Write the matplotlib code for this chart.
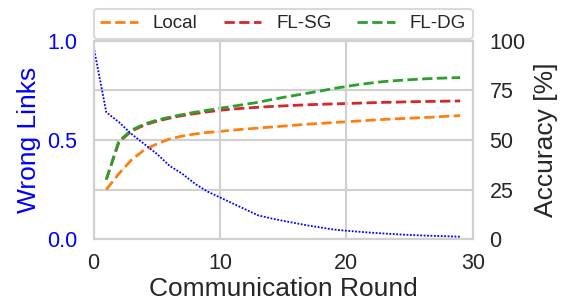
import matplotlib
matplotlib.use("Agg")
import matplotlib.pyplot as plt
import seaborn as sns

sns.set_theme(style="whitegrid")
plt.rcParams['font.family'] = ['Liberation Sans', 'DejaVu Sans']

rounds_wl = list(range(0, 30))
wrong_links = [0.97, 0.64, 0.59, 0.53, 0.48, 0.43, 0.37, 0.33, 0.28, 0.24,
               0.21, 0.18, 0.15, 0.12, 0.105, 0.092, 0.08, 0.068, 0.058, 0.048,
               0.042, 0.037, 0.032, 0.028, 0.024, 0.021, 0.018, 0.016, 0.014, 0.012]

rounds_acc = list(range(1, 30))
acc_local = [25, 33, 40, 45, 48, 50.5, 52, 53, 53.8, 54.3, 55, 55.5, 56, 56.5, 57,
             57.5, 58, 58.4, 58.8, 59.2, 59.6, 60, 60.4, 60.7, 61, 61.3, 61.6, 62, 62.3]
acc_sg = [30, 49, 54.5, 57.5, 59.5, 61, 62.3, 63.3, 64.2, 65, 65.6, 66.1, 66.5, 66.9, 67.2,
          67.5, 67.8, 68, 68.2, 68.4, 68.6, 68.8, 69, 69.1, 69.3, 69.4, 69.5, 69.6, 69.7]
acc_dg = [30, 49.5, 55, 58, 60, 61.5, 62.8, 64, 65, 66, 67, 68, 69, 70.3, 71.5,
          72.6, 73.7, 74.8, 76, 77, 78, 78.8, 79.5, 80, 80.4, 80.8, 81.1, 81.3, 81.5]

grid_c = '#d0d0d0'
text_c = '#262626'

fig = plt.figure(figsize=(5.71, 3.03), dpi=100)
ax1 = fig.add_axes([0.164, 0.211, 0.664, 0.654])
ax2 = ax1.twinx()

ax1.plot(rounds_wl, wrong_links, linestyle=(0, (1, 0.9)), color='blue', lw=1.3)
ax1.set_xlim(0, 30)
ax1.set_ylim(0, 1.0)
ax1.set_yticks([0, 0.5, 1.0])
ax1.set_xticks([0, 10, 20, 30])
ax1.tick_params(axis='y', colors='blue', labelsize=15.5, length=0, pad=12)
ax1.tick_params(axis='x', labelsize=15.5, colors=text_c, length=0, pad=10)
ax1.set_ylabel('Wrong Links', color='blue', fontsize=19, labelpad=4)
ax1.set_xlabel('Communication Round', fontsize=19, color=text_c, labelpad=2)
ax1.grid(False)
ax1.xaxis.grid(True, color=grid_c, lw=1.5)

l1, = ax2.plot(rounds_acc, acc_local, '--', color='#ff7f0e', lw=2, label='Local')
l2, = ax2.plot(rounds_acc, acc_sg, '--', color='#d62728', lw=2, label='FL-SG')
l3, = ax2.plot(rounds_acc, acc_dg, '--', color='#2ca02c', lw=2, label='FL-DG')
ax2.set_ylim(0, 100)
ax2.set_yticks([0, 25, 50, 75, 100])
ax2.tick_params(axis='y', labelsize=15.5, colors=text_c, length=0, pad=12)
ax2.set_ylabel('Accuracy [%]', fontsize=19, color=text_c, labelpad=6)
ax2.grid(True, color=grid_c, lw=1.5)
ax2.set_zorder(0)
ax1.set_zorder(1)
ax1.patch.set_visible(False)

for ax in (ax1, ax2):
    for s in ax.spines.values():
        s.set_color(grid_c)
        s.set_linewidth(1.5)

leg = ax1.legend(handles=[l1, l2, l3], loc='lower left', bbox_to_anchor=(0, 1.01, 1, 0.15),
                 mode='expand', ncol=3, fontsize=13.5, frameon=True, borderaxespad=0,
                 handlelength=2.0, handletextpad=0.8, borderpad=0.35, edgecolor=grid_c)
leg.get_frame().set_linewidth(1.5)
for t in leg.get_texts():
    t.set_color(text_c)

fig.savefig('out.png', dpi=100)
